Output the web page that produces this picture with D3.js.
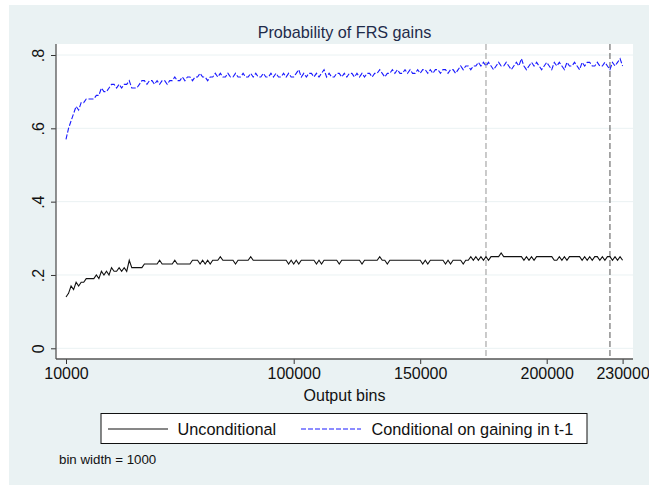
<!DOCTYPE html>
<html><head><meta charset="utf-8">
<script src="https://cdn.jsdelivr.net/npm/d3@7"></script>
<style>body{margin:0;background:#fff}svg{display:block;font-family:"Liberation Sans",Arial,sans-serif}</style>
</head><body><div id="chart"></div>
<script>
const binStart = 10000, binWidth = 1000;
const unconditional = [
0.14,0.15,0.17,0.16,0.18,0.17,0.18,0.18,0.19,0.19,
0.19,0.19,0.20,0.19,0.21,0.20,0.21,0.20,0.22,0.21,
0.21,0.22,0.21,0.22,0.21,0.24,0.22,0.22,0.22,0.22,
0.22,0.23,0.23,0.23,0.23,0.23,0.23,0.24,0.23,0.23,
0.23,0.23,0.23,0.24,0.23,0.23,0.23,0.23,0.23,0.23,
0.24,0.24,0.24,0.23,0.24,0.23,0.24,0.23,0.24,0.24,
0.24,0.25,0.24,0.24,0.24,0.24,0.24,0.23,0.24,0.24,
0.24,0.24,0.24,0.25,0.24,0.24,0.24,0.24,0.24,0.24,
0.24,0.24,0.24,0.24,0.24,0.24,0.24,0.24,0.23,0.24,
0.23,0.24,0.23,0.24,0.24,0.24,0.24,0.24,0.24,0.23,
0.24,0.23,0.24,0.24,0.24,0.24,0.24,0.24,0.23,0.24,
0.24,0.24,0.24,0.24,0.24,0.24,0.24,0.23,0.24,0.24,
0.24,0.24,0.24,0.24,0.25,0.24,0.24,0.23,0.24,0.24,
0.24,0.24,0.24,0.24,0.24,0.24,0.24,0.24,0.24,0.24,
0.24,0.23,0.24,0.23,0.24,0.24,0.24,0.24,0.24,0.24,
0.23,0.24,0.23,0.24,0.24,0.24,0.24,0.23,0.24,0.24,
0.25,0.24,0.25,0.24,0.25,0.24,0.25,0.24,0.25,0.25,
0.25,0.25,0.26,0.25,0.25,0.25,0.25,0.25,0.25,0.25,
0.25,0.24,0.25,0.24,0.25,0.24,0.25,0.25,0.25,0.25,
0.25,0.25,0.25,0.24,0.24,0.25,0.24,0.25,0.24,0.25,
0.25,0.25,0.25,0.25,0.24,0.25,0.24,0.25,0.24,0.25,
0.25,0.24,0.25,0.24,0.25,0.25,0.24,0.25,0.24,0.25,0.24];
const conditional = [
0.57,0.60,0.62,0.64,0.66,0.65,0.67,0.67,0.68,0.68,
0.68,0.68,0.69,0.69,0.71,0.70,0.70,0.71,0.72,0.72,
0.71,0.72,0.71,0.72,0.72,0.73,0.71,0.71,0.71,0.72,
0.73,0.73,0.72,0.73,0.73,0.72,0.73,0.72,0.73,0.73,
0.72,0.73,0.73,0.74,0.73,0.73,0.74,0.73,0.74,0.74,
0.73,0.74,0.74,0.75,0.74,0.74,0.73,0.74,0.74,0.75,
0.74,0.75,0.74,0.74,0.75,0.74,0.74,0.75,0.74,0.74,
0.75,0.74,0.74,0.75,0.74,0.75,0.74,0.74,0.75,0.74,
0.74,0.75,0.74,0.75,0.74,0.74,0.75,0.74,0.75,0.74,
0.74,0.75,0.76,0.74,0.75,0.74,0.75,0.75,0.74,0.75,
0.74,0.75,0.76,0.74,0.75,0.74,0.74,0.75,0.75,0.74,
0.75,0.74,0.75,0.75,0.74,0.75,0.74,0.75,0.74,0.75,
0.75,0.74,0.75,0.75,0.76,0.75,0.74,0.75,0.75,0.76,
0.75,0.76,0.75,0.75,0.76,0.75,0.76,0.75,0.75,0.76,
0.75,0.76,0.76,0.75,0.76,0.75,0.76,0.76,0.75,0.76,
0.76,0.75,0.76,0.76,0.75,0.76,0.77,0.76,0.77,0.77,
0.76,0.77,0.77,0.78,0.77,0.78,0.77,0.78,0.77,0.76,
0.77,0.78,0.77,0.77,0.78,0.77,0.76,0.77,0.78,0.77,
0.79,0.77,0.76,0.77,0.78,0.77,0.78,0.77,0.76,0.77,
0.78,0.77,0.76,0.78,0.77,0.78,0.77,0.76,0.78,0.77,
0.77,0.78,0.77,0.76,0.78,0.77,0.78,0.78,0.77,0.77,
0.78,0.77,0.77,0.78,0.77,0.76,0.78,0.77,0.78,0.79,0.77];
const xTicks = [10000, 100000, 150000, 200000, 230000];
const yTicks = [0, 0.2, 0.4, 0.6, 0.8];
const yTickLabels = ["0", ".2", ".4", ".6", ".8"];
const refLines = [176000, 225000];
const refColors = ["#a8a8a8", "#707070"];
const seriesNames = ["Unconditional", "Conditional on gaining in t-1"];
const titleText = "Probability of FRS gains";
const xTitle = "Output bins";
const noteText = "bin width = 1000";

const W = 649, H = 485;
const svg = d3.select("#chart").append("svg").attr("width", W).attr("height", H);
svg.append("rect").attr("x", 9).attr("y", 5).attr("width", W - 9).attr("height", H - 5).attr("fill", "#EAF2F3");
const P = {l: 56, r: 633, t: 44, b: 359};
svg.append("rect").attr("x", P.l).attr("y", P.t).attr("width", P.r - P.l).attr("height", P.b - P.t).attr("fill", "#fff");

const x = d3.scaleLinear().domain([10000, 230000]).range([66, 622.6]);
const y = d3.scaleLinear().domain([0, 0.8]).range([348.3, 55]);

// gridlines
svg.append("g").selectAll("line").data(yTicks).join("line")
  .attr("x1", P.l).attr("x2", P.r).attr("y1", d => y(d)).attr("y2", d => y(d))
  .attr("stroke", "#EAF2F3").attr("stroke-width", 1);

// reference lines
svg.append("g").selectAll("line").data(refLines).join("line")
  .attr("x1", d => x(d)).attr("x2", d => x(d)).attr("y1", P.t).attr("y2", P.b)
  .attr("stroke", (d, i) => refColors[i]).attr("stroke-width", 1.2).attr("stroke-dasharray", "6,3");

// axes
const yAxis = d3.axisLeft(y).tickValues(yTicks).tickFormat((d, i) => yTickLabels[i]).tickSize(5).tickSizeOuter(0);
const gy = svg.append("g").attr("transform", `translate(${P.l},0)`).call(yAxis);
gy.select(".domain").remove();
gy.selectAll(".tick line").attr("stroke", "#333");
gy.selectAll(".tick text").attr("font-size", 16).attr("fill", "#111")
  .attr("text-anchor", "middle").attr("x", 0).attr("dy", 0)
  .attr("transform", "translate(-18,0) rotate(-90)").attr("dominant-baseline", "central");
svg.append("line").attr("x1", P.l).attr("x2", P.l).attr("y1", P.t).attr("y2", P.b).attr("stroke", "#555").attr("stroke-width", 1.3);

const xAxis = d3.axisBottom(x).tickValues(xTicks).tickFormat(d3.format("d")).tickSize(5).tickSizeOuter(0);
const gx = svg.append("g").attr("transform", `translate(0,${P.b})`).call(xAxis);
gx.select(".domain").remove();
gx.selectAll(".tick line").attr("stroke", "#333");
gx.selectAll(".tick text").attr("font-size", 16).attr("fill", "#111").attr("y", 9);
svg.append("line").attr("x1", P.l).attr("x2", P.r).attr("y1", P.b).attr("y2", P.b).attr("stroke", "#555").attr("stroke-width", 1.3);

// lines
const mk = arr => arr.map((v, i) => ({b: binStart + i * binWidth, v}));
const line = d3.line().x(d => x(d.b)).y(d => y(d.v));
svg.append("path").datum(mk(unconditional)).attr("d", line).attr("fill", "none").attr("stroke", "#111").attr("stroke-width", 1.1);
svg.append("path").datum(mk(conditional)).attr("d", line).attr("fill", "none").attr("stroke", "#1a1aff").attr("stroke-width", 1.1).attr("stroke-dasharray", "5,2");

// title
svg.append("text").attr("x", (P.l + P.r) / 2).attr("y", 38).attr("text-anchor", "middle")
  .attr("font-size", 16.2).attr("fill", "#1e2b4a").text(titleText);
svg.append("text").attr("x", (P.l + P.r) / 2).attr("y", 401).attr("text-anchor", "middle")
  .attr("font-size", 16).attr("fill", "#111").text(xTitle);

// legend
const lg = svg.append("g");
lg.append("rect").attr("x", 101).attr("y", 413.5).attr("width", 486).attr("height", 30).attr("fill", "#fff").attr("stroke", "#111").attr("stroke-width", 1);
lg.append("line").attr("x1", 108).attr("x2", 168).attr("y1", 429).attr("y2", 429).attr("stroke", "#111").attr("stroke-width", 1.1);
lg.append("text").attr("x", 177.5).attr("y", 434.5).attr("font-size", 16.3).attr("fill", "#111").text(seriesNames[0]);
lg.append("line").attr("x1", 301).attr("x2", 361).attr("y1", 429).attr("y2", 429).attr("stroke", "#1a1aff").attr("stroke-width", 1.1).attr("stroke-dasharray", "5,2");
lg.append("text").attr("x", 371.5).attr("y", 434.5).attr("font-size", 16.3).attr("fill", "#111").text(seriesNames[1]);

svg.append("text").attr("x", 59).attr("y", 463.5).attr("font-size", 13.3).attr("fill", "#111").text(noteText);
</script></body></html>
